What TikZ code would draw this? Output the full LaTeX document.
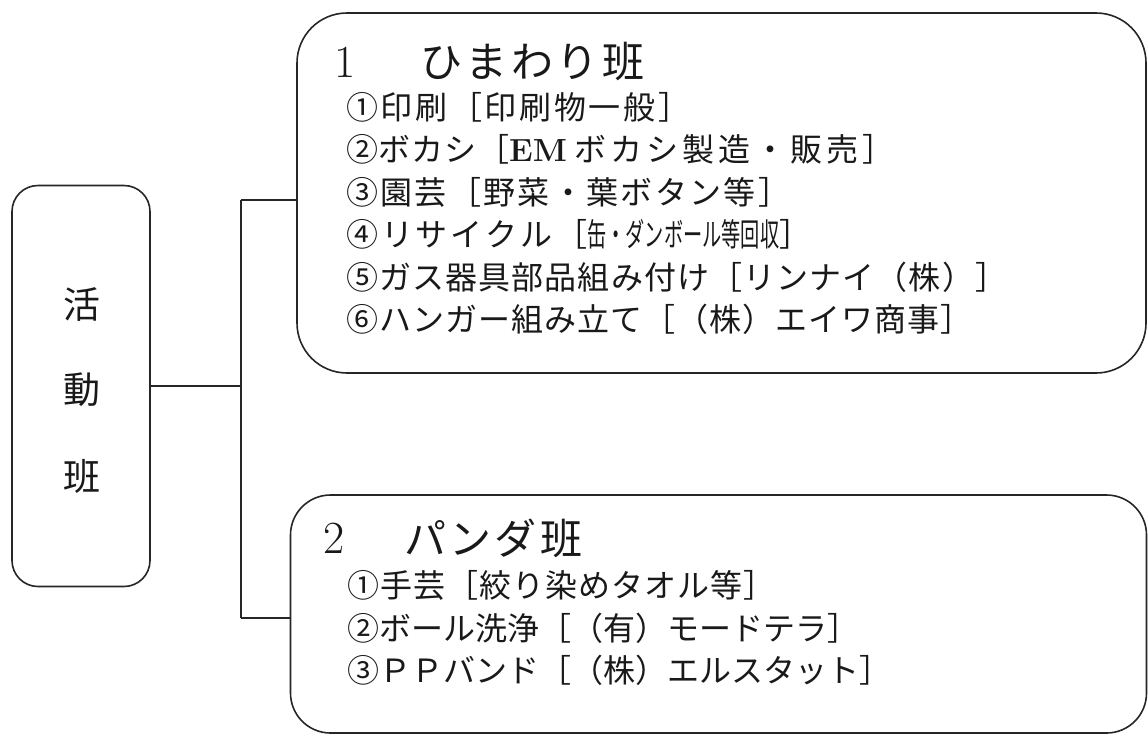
\documentclass[tikz,border=0pt]{standalone}
\usepackage{fontspec}
\usepackage{graphicx}
\newfontfamily\jp{Noto Sans CJK JP}
\makeatletter
\def\jsp#1{\jsp@#1\@nil}
\def\jsp@#1#2\@nil{#1\if\relax\detokenize{#2}\relax\else\hfil\jsp@#2\@nil\fi}
\makeatother
\newcommand{\jline}[2]{\makebox[#1pt][s]{\jsp{#2}}}
\tikzset{
  frame/.style={draw=black!85, line width=1.6pt, rounded corners=#1, inner sep=0pt},
  conn/.style={draw=black!85, line width=1.5pt},
  item/.style={anchor=west, inner sep=0pt, font=\jp\fontsize{32}{32}\selectfont, text=black!90},
  ttl/.style={anchor=west, inner sep=0pt, font=\jp\fontsize{42}{42}\selectfont, text=black!90},
  num/.style={anchor=west, inner sep=0pt, font=\fontsize{46}{46}\selectfont, text=black!90},
  side/.style={inner sep=0pt, font=\jp\fontsize{37}{37}\selectfont, text=black!90}
}
\begin{document}
\begin{tikzpicture}[x=1pt, y=-1pt]
\useasboundingbox (0,0) rectangle (1148,737);
% boxes
\node[frame=26pt, minimum width=138pt, minimum height=401pt] (lb) at (81,386) {};
\node[frame=50pt, minimum width=849pt, minimum height=360pt] (b1) at (721.5,193) {};
\node[frame=40pt, minimum width=856pt, minimum height=238pt] (b2) at (718.5,614) {};
% left box text
\node[side] (s1) at (82,304) {活};
\node[side] (s2) at (82,390) {動};
\node[side] (s3) at (82,476) {班};
% connectors
\coordinate (t1) at (241,200);
\coordinate (t2) at (241,618);
\draw[conn] (t1) -- (t2);
\draw[conn] (lb.east) -- (lb.east -| t1);
\draw[conn] (t1) -- (t1 -| b1.west);
\draw[conn] (t2) -- (t2 -| b2.west);
% box 1
\node[num] (n1) at (334,62) {1};
\node[ttl] (h1) at (420,62) {\jline{224}{ひまわり班}};
\node[item] (a1) at (346,107) {\jline{344}{①印刷［印刷物一般］}};
\node[item] (a2) at (346,149.5) {\jline{163}{②ボカシ［}{\rmfamily\bfseries EM}\hspace{8pt}\jline{320}{ボカシ製造・販売］}};
\node[item] (a3) at (346,192) {\jline{444}{③園芸［野菜・葉ボタン等］}};
\node[item] (a4) at (346,234.5) {\jline{241}{④リサイクル［}\scalebox{0.6}[1]{缶・ダンボール等回収}］};
\node[item] (a5) at (346,277) {\jline{661}{⑤ガス器具部品組み付け［リンナイ（株）］}};
\node[item] (a6) at (346,319.5) {\jline{626}{⑥ハンガー組み立て［（株）エイワ商事］}};
% box 2
\node[num] (n2) at (323,538) {2};
\node[ttl] (h2) at (404,538) {\jline{178}{パンダ班}};
\node[item] (c1) at (347,585) {\jline{428}{①手芸［絞り染めタオル等］}};
\node[item] (c2) at (347,628) {\jline{509}{②ボール洗浄［（有）モードテラ］}};
\node[item] (c3) at (347,670) {\jline{543}{③ＰＰバンド［（株）エルスタット］}};
\end{tikzpicture}
\end{document}
